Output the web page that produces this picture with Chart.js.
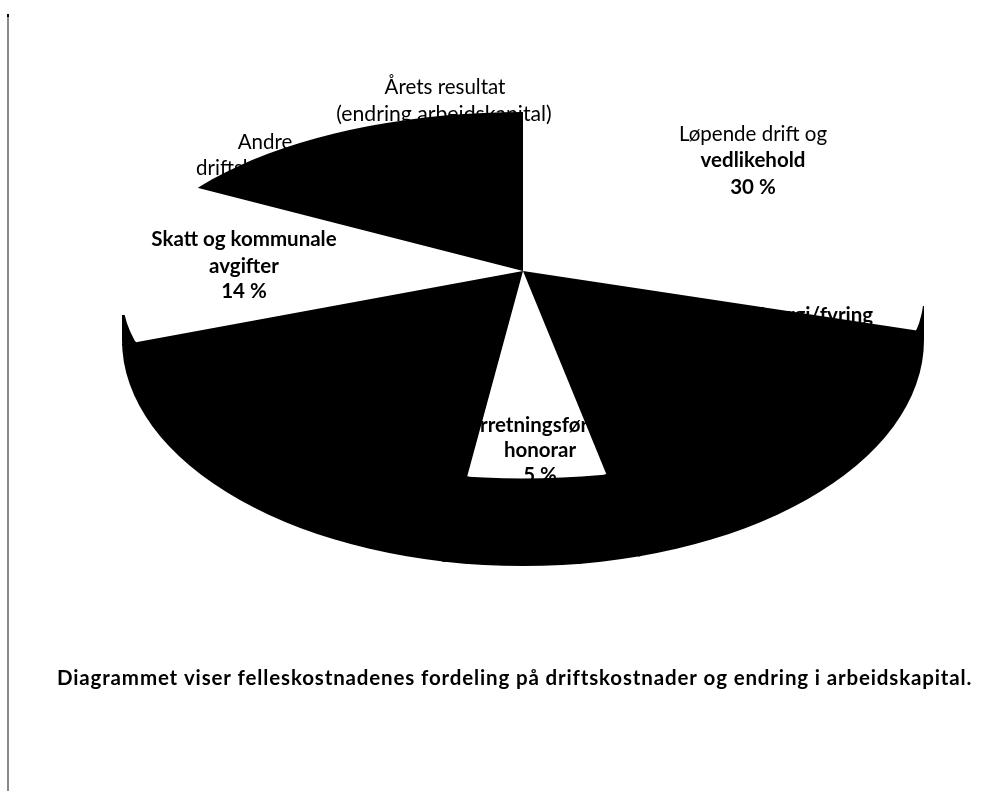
<!DOCTYPE html>
<html lang="no">
<head>
<meta charset="utf-8">
<style>
html,body{margin:0;padding:0;background:#fff;overflow:hidden}
#wrap{position:relative;width:1004px;height:791px}
canvas{display:block}
</style>
<script src="https://cdn.jsdelivr.net/npm/chart.js@4"></script>
</head>
<body>
<div id="wrap"><canvas id="c" width="1004" height="791"></canvas></div>
<script>
const categories = ["Løpende drift og vedlikehold","Energi/fyring","Forretningsfører honorar","Øvrige kostnader","Skatt og kommunale avgifter","Andre driftskostnader og årets resultat"];
const shares = [30,17,5,17,14,17];
const sliceColors = ["rgba(0,0,0,0)","#000","rgba(0,0,0,0)","#000","rgba(0,0,0,0)","#000"];

const sliceLabels = [
  {text:"Årets resultat",x:445,y:87,w:400,s:20.5},
  {text:"(endring arbeidskapital)",x:444,y:114,w:400,s:21.2},
  {text:"Andre",x:265,y:142,w:400,s:20.5},
  {text:"driftskostnader",x:264,y:168,w:400,s:20.5},
  {text:"Løpende drift og",x:753,y:134,w:400,s:20.5},
  {text:"vedlikehold",x:753,y:160,w:700,s:20.5},
  {text:"30 %",x:753,y:187,w:700,s:20.5},
  {text:"Energi/fyring",x:813,y:315,w:700,s:20.5},
  {text:"Forretningsfører",x:532,y:425,w:700,s:20.5},
  {text:"honorar",x:540,y:450,w:700,s:20.5},
  {text:"5 %",x:540,y:475,w:700,s:20.5},
  {text:"Skatt og kommunale",x:244,y:239,w:700,s:20.5},
  {text:"avgifter",x:244,y:266,w:700,s:20.5},
  {text:"14 %",x:244,y:291,w:700,s:20.5}
];
const caption = "Diagrammet viser felleskostnadenes fordeling på driftskostnader og endring i arbeidskapital.";

const FONT = "Lato";
const PIE = {cx:523,cy:271,scale:1.75,squash:0.465};
const FACE = {cx:523,cy:296,rx:402,ry:184};
const WALL = {cx:523,cy:340,rx:401,ry:226,tipL:[122,315],tipR:[924,306]};

function pieTransform(ctx,chart){
  const a = chart.getDatasetMeta(0).data[0];
  ctx.translate(PIE.cx,PIE.cy);
  ctx.scale(PIE.scale,PIE.scale*PIE.squash);
  ctx.translate(-a.x,-a.y);
}
function faceClip(ctx){
  ctx.beginPath();
  ctx.ellipse(FACE.cx,FACE.cy,FACE.rx,FACE.ry,0,0,Math.PI*2);
  ctx.clip();
}
const pie3d = {
  id:"pie3d",
  beforeDatasetsDraw(chart){
    const ctx = chart.ctx;
    ctx.save();
    ctx.fillStyle="#8a8a8a"; ctx.fillRect(7,14,2,777);
    ctx.fillStyle="#000"; ctx.fillRect(7,14,2,3);
    ctx.fillStyle="#000";
    ctx.textAlign="center"; ctx.textBaseline="middle";
    sliceLabels.forEach(l=>{
      ctx.font=l.w+" "+l.s+"px "+FONT;
      ctx.fillText(l.text,l.x,l.y);
    });
    ctx.font="700 20.5px "+FONT;
    ctx.letterSpacing="0.85px";
    ctx.textAlign="left";
    ctx.fillText(caption,57,678);
    ctx.letterSpacing="0px";
    ctx.beginPath();
    ctx.moveTo(WALL.tipR[0],WALL.tipR[1]);
    ctx.ellipse(WALL.cx,WALL.cy,WALL.rx,WALL.ry,0,0,Math.PI);
    ctx.lineTo(WALL.tipL[0],WALL.tipL[1]);
    ctx.closePath();
    ctx.clip();
    ctx.beginPath();
    ctx.rect(0,0,1004,791);
    ctx.ellipse(FACE.cx,FACE.cy,FACE.rx-1.5,FACE.ry-1.5,0,0,Math.PI*2);
    ctx.clip("evenodd");
    pieTransform(ctx,chart);
    chart.getDatasetMeta(0).data.forEach(arc=>{
      const o=arc.options;
      arc.options={...o,backgroundColor:"#000",borderColor:"#000",borderWidth:2};
      arc.draw(ctx);
      arc.options=o;
    });
    ctx.restore();
  },
  beforeDatasetDraw(chart){
    const ctx=chart.ctx;
    ctx.save();
    faceClip(ctx);
    pieTransform(ctx,chart);
  },
  afterDatasetDraw(chart){
    chart.ctx.restore();
  }
};

new Chart(document.getElementById("c"),{
  type:"pie",
  data:{labels:categories,datasets:[{data:shares,backgroundColor:sliceColors,borderWidth:0,clip:false}]},
  options:{
    responsive:false,animation:false,
    layout:{padding:0},
    plugins:{legend:{display:false},tooltip:{enabled:false},title:{display:false}}
  },
  plugins:[pie3d]
});
</script>
</body>
</html>
